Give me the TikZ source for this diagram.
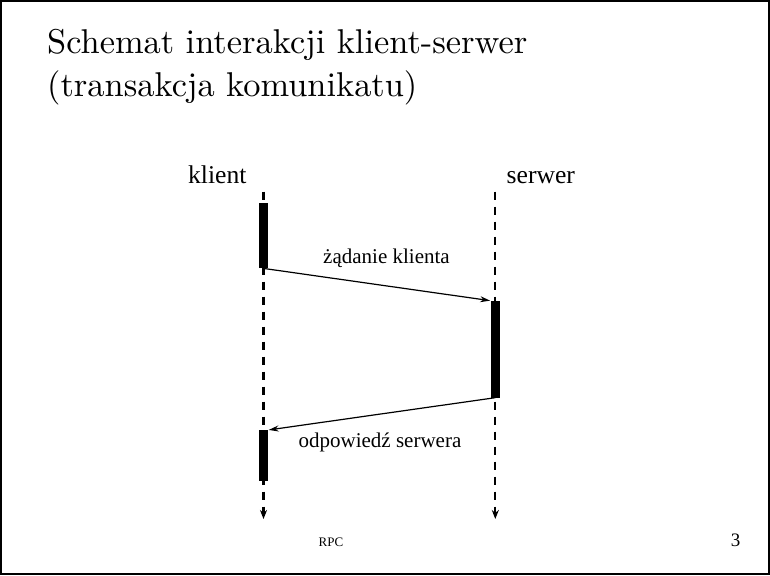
\documentclass[tikz,border=0pt]{standalone}
\usepackage{fontspec}
\newfontfamily\tms{Liberation Serif}
\newfontfamily\ttl{lmroman10-regular}[Extension=.otf]
\usetikzlibrary{arrows.meta}
\tikzset{
  frame/.style={draw=black, line width=2pt},
  titletext/.style={anchor=base west, inner sep=0pt, font=\ttl\fontsize{34.4}{40}\selectfont},
  headlabel/.style={anchor=base, inner sep=0pt, font=\tms\fontsize{25.6}{28}\selectfont},
  msglabel/.style={anchor=base, inner sep=0pt, font=\tms\fontsize{21}{24}\selectfont},
  lifeline/.style={line width=2.2pt, dash pattern=on 8pt off 7pt, -{Stealth[length=9pt,width=7pt]}},
  actbar/.style={fill=black, draw=none, minimum width=9pt, inner sep=0pt, anchor=north},
  msg/.style={line width=1.2pt, -{Stealth[length=10pt,width=6pt]}, shorten >=0.5pt},
  foot/.style={anchor=base, inner sep=0pt}
}
\begin{document}
\begin{tikzpicture}[x=1pt,y=-1pt]
\useasboundingbox (0,0) rectangle (770,575);
\draw[frame] (1,1) rectangle (768.5,574);
% title
\node[titletext] (t1) at (47,54) {Schemat interakcji klient-serwer};
\node[titletext] (t2) at (47,96) {(transakcja komunikatu)};
% heads
\node[headlabel] (kl) at (217.3,183.5) {klient};
\node[headlabel] (sw) at (540.8,183.5) {serwer};
% lifelines
\coordinate (ct) at (263.5,191.5);
\coordinate (cb) at (263.5,519);
\coordinate (st) at (495.3,191.5);
\coordinate (sb) at (495.3,519);
\draw[lifeline] (ct) -- (cb);
\draw[lifeline] (st) -- (sb);
% activation bars
\node[actbar, minimum height=65pt] (c1) at (263.5,203) {};
\node[actbar, minimum height=96.6pt] (s1) at (495.3,300.7) {};
\node[actbar, minimum height=50.5pt] (c2) at (263.5,430) {};
% messages
\draw[msg] (c1.south) -- (s1.north west);
\draw[msg] (s1.south) -- (c2.north east);
\node[msglabel] (m1) at (386.5,263) {żądanie klienta};
\node[msglabel] (m2) at (380,447) {odpowiedź serwera};
% footer
\node[foot, font=\tms\fontsize{13}{15}\selectfont] (rpc) at (331,546.5) {RPC};
\node[foot, font=\tms\fontsize{19}{21}\selectfont] (pg) at (735.5,546) {3};
\end{tikzpicture}
\end{document}
